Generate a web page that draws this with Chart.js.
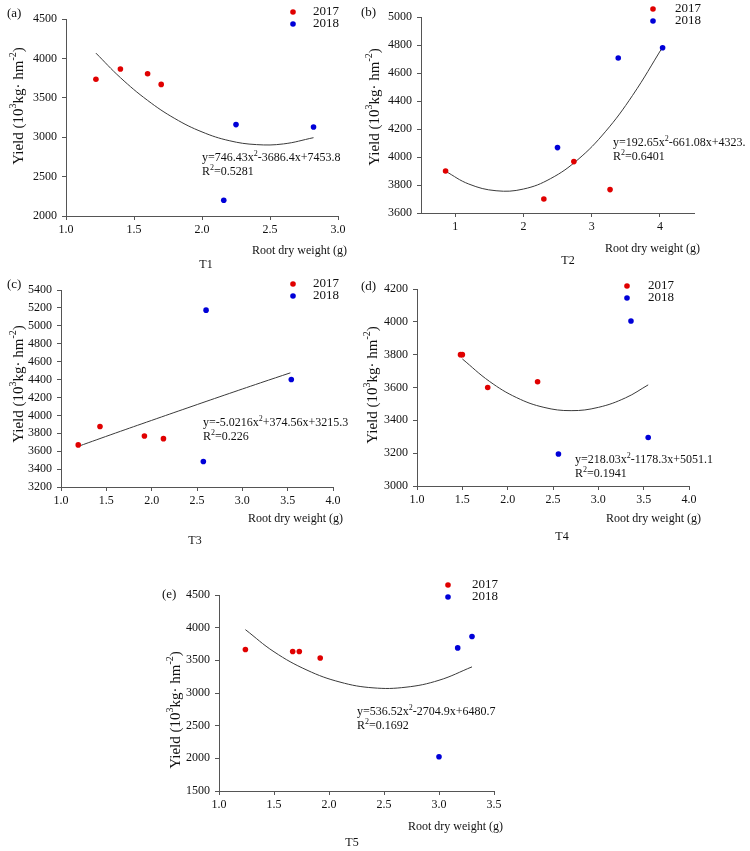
<!DOCTYPE html>
<html>
<head>
<meta charset="utf-8">
<script src="https://cdn.jsdelivr.net/npm/chart.js@4.4.1/dist/chart.umd.min.js"></script>
<style>
  html, body { margin: 0; padding: 0; background: #fff; }
  #fig { position: relative; width: 750px; height: 851px; overflow: hidden; }
  #fig canvas { position: absolute; }
</style>
</head>
<body>
<div id="fig">
  <canvas id="chartA"></canvas>
  <canvas id="chartB"></canvas>
  <canvas id="chartC"></canvas>
  <canvas id="chartD"></canvas>
  <canvas id="chartE"></canvas>
</div>
<script>
// ---- data ----
const yearLabels = ['2017', '2018'];
const xTitleText = 'Root dry weight (g)';
const yTitleText = 'Yield (10^{3}kg\u00b7 hm^{-2})';

// T1
const t1Root2017 = [1.22, 1.40, 1.60, 1.70];
const t1Yield2017 = [3735, 3865, 3805, 3670];
const t1Root2018 = [2.16, 2.25, 2.82];
const t1Yield2018 = [2200, 3160, 3130];
const t1FitRoot = [1.22, 1.4, 1.6, 1.8, 2.0, 2.2, 2.4, 2.6, 2.82];
const t1FitYield = [4067, 3756, 3467, 3237, 3067, 2956, 2906, 2915, 2994];
const t1XTicks = [1.0, 1.5, 2.0, 2.5, 3.0];
const t1YTicks = [2000, 2500, 3000, 3500, 4000, 4500];
const t1Equation = ['y=746.43x^{2}-3686.4x+7453.8', 'R^{2}=0.5281'];

// T2
const t2Root2017 = [0.86, 2.30, 2.74, 3.27];
const t2Yield2017 = [3900, 3700, 3967, 3767];
const t2Root2018 = [2.50, 3.39, 4.04];
const t2Yield2018 = [4067, 4707, 4780];
const t2FitRoot = [0.86, 1.2, 1.6, 2.0, 2.4, 2.8, 3.2, 3.6, 4.04];
const t2FitYield = [3898, 3807, 3759, 3771, 3846, 3982, 4180, 4440, 4785];
const t2XTicks = [1, 2, 3, 4];
const t2YTicks = [3600, 3800, 4000, 4200, 4400, 4600, 4800, 5000];
const t2Equation = ['y=192.65x^{2}-661.08x+4323.', 'R^{2}=0.6401'];

// T3
const t3Root2017 = [1.19, 1.43, 1.92, 2.13];
const t3Yield2017 = [3670, 3875, 3770, 3740];
const t3Root2018 = [2.60, 2.57, 3.54];
const t3Yield2018 = [5175, 3485, 4400];
const t3FitRoot = [1.19, 1.6, 2.0, 2.4, 2.8, 3.2, 3.53];
const t3FitYield = [3654, 3802, 3944, 4085, 4225, 4363, 4475];
const t3XTicks = [1.0, 1.5, 2.0, 2.5, 3.0, 3.5, 4.0];
const t3YTicks = [3200, 3400, 3600, 3800, 4000, 4200, 4400, 4600, 4800, 5000, 5200, 5400];
const t3Equation = ['y=-5.0216x^{2}+374.56x+3215.3', 'R^{2}=0.226'];

// T4
const t4Root2017 = [1.48, 1.50, 1.78, 2.33];
const t4Yield2017 = [3800, 3800, 3600, 3635];
const t4Root2018 = [2.56, 3.36, 3.55];
const t4Yield2018 = [3195, 4005, 3295];
const t4FitRoot = [1.5, 1.8, 2.1, 2.4, 2.7, 3.0, 3.3, 3.55];
const t4FitYield = [3774, 3637, 3538, 3479, 3459, 3479, 3537, 3616];
const t4XTicks = [1.0, 1.5, 2.0, 2.5, 3.0, 3.5, 4.0];
const t4YTicks = [3000, 3200, 3400, 3600, 3800, 4000, 4200];
const t4Equation = ['y=218.03x^{2}-1178.3x+5051.1', 'R^{2}=0.1941'];

// T5
const t5Root2017 = [1.24, 1.67, 1.73, 1.92];
const t5Yield2017 = [3665, 3635, 3635, 3535];
const t5Root2018 = [3.00, 3.17, 3.30];
const t5Yield2018 = [2025, 3690, 3865];
const t5FitRoot = [1.24, 1.5, 1.8, 2.1, 2.4, 2.7, 3.0, 3.30];
const t5FitYield = [3970, 3631, 3350, 3167, 3079, 3089, 3195, 3400];
const t5XTicks = [1.0, 1.5, 2.0, 2.5, 3.0, 3.5];
const t5YTicks = [1500, 2000, 2500, 3000, 3500, 4000, 4500];
const t5Equation = ['y=536.52x^{2}-2704.9x+6480.7', 'R^{2}=0.1692'];

// ---- styling ----
const SERIF = '"Liberation Serif", "Times New Roman", serif';
const RED = '#e00000';
const BLUE = '#0000d8';
const AXIS = '#555';
const INK = '#111';
const X_AXIS_H = 30;

// splits "a^{b}c" into normal / superscript runs
function parseRich(s) {
  const parts = [];
  const re = /\^\{([^}]*)\}/g;
  let last = 0, m;
  while ((m = re.exec(s))) {
    if (m.index > last) parts.push([s.slice(last, m.index), false]);
    parts.push([m[1], true]);
    last = re.lastIndex;
  }
  if (last < s.length) parts.push([s.slice(last), false]);
  return parts;
}

function drawRich(ctx, s, x, y, size, align) {
  const parts = parseRich(s);
  const big = size + 'px ' + SERIF;
  const small = Math.round(size * 0.65) + 'px ' + SERIF;
  let w = 0;
  parts.forEach(p => { ctx.font = p[1] ? small : big; w += ctx.measureText(p[0]).width; });
  let cx = align === 'center' ? x - w / 2 : align === 'right' ? x - w : x;
  ctx.textAlign = 'left';
  parts.forEach(p => {
    ctx.font = p[1] ? small : big;
    ctx.fillText(p[0], cx, p[1] ? y - size * 0.38 : y);
    cx += ctx.measureText(p[0]).width;
  });
}

// panel letter, axis titles, legend and fit equation
const panelText = {
  id: 'panelText',
  afterDraw(chart, args, o) {
    const ctx = chart.ctx;
    const ox = o.box[0], oy = o.box[1];
    ctx.save();
    ctx.fillStyle = INK;
    ctx.textBaseline = 'middle';

    drawRich(ctx, o.letter, o.letterAt[0] - ox, o.letterAt[1] - oy, 13, 'left');

    ctx.save();
    ctx.translate(o.yTitleAt[0] - ox, o.yTitleAt[1] - oy);
    ctx.rotate(-Math.PI / 2);
    drawRich(ctx, yTitleText, 0, 0, 15, 'center');
    ctx.restore();

    drawRich(ctx, xTitleText, o.xTitleAt[0] - ox, o.xTitleAt[1] - oy, 12, 'right');
    drawRich(ctx, o.sub, o.subAt[0] - ox, o.subAt[1] - oy, 12, 'center');

    [RED, BLUE].forEach((c, i) => {
      ctx.fillStyle = c;
      ctx.beginPath();
      ctx.arc(o.legendDotX - ox, o.legendY[i] - oy, 2.8, 0, Math.PI * 2);
      ctx.fill();
      ctx.fillStyle = INK;
      drawRich(ctx, yearLabels[i], o.legendTextX - ox, o.legendY[i] - oy, 13, 'left');
    });

    o.equation.forEach((line, i) => {
      drawRich(ctx, line, o.eqAt[0] - ox, o.eqAt[1] - oy + i * 14, 12, 'left');
    });
    ctx.restore();
  }
};

const toPoints = (xs, ys) => xs.map((x, i) => ({ x: x, y: ys[i] }));

function makePanel(p) {
  const [bx, by, bw, bh] = p.box;
  const [L, T, R, B] = p.area;
  const canvas = document.getElementById(p.id);
  canvas.width = bw;
  canvas.height = bh;
  canvas.style.left = bx + 'px';
  canvas.style.top = by + 'px';

  const tickFont = { family: SERIF, size: 12 };
  const gridCfg = { display: true, drawOnChartArea: false, drawTicks: true, tickLength: 4, color: AXIS };

  return new Chart(canvas, {
    type: 'scatter',
    data: {
      datasets: [
        { label: yearLabels[0], data: toPoints(p.x17, p.y17), backgroundColor: RED, borderColor: RED, pointRadius: 2.8, pointBorderWidth: 0 },
        { label: yearLabels[1], data: toPoints(p.x18, p.y18), backgroundColor: BLUE, borderColor: BLUE, pointRadius: 2.8, pointBorderWidth: 0 },
        { label: 'fit', data: toPoints(p.fitX, p.fitY), showLine: true, borderColor: '#3a3a3a', borderWidth: 1, pointRadius: 0, tension: 0.4, fill: false }
      ]
    },
    options: {
      responsive: false,
      animation: false,
      events: [],
      layout: { padding: { left: 0, top: T - by, right: bx + bw - R, bottom: by + bh - B - X_AXIS_H } },
      plugins: {
        legend: { display: false },
        tooltip: { enabled: false },
        panelText: p.text
      },
      scales: {
        x: {
          type: 'linear',
          min: p.xRange[0],
          max: p.xRange[1],
          afterBuildTicks: s => { s.ticks = p.xTicks.map(v => ({ value: v })); },
          afterFit: s => { s.height = X_AXIS_H; },
          grid: gridCfg,
          border: { display: true, color: AXIS, width: 1 },
          ticks: {
            font: tickFont, color: INK, padding: 3, maxRotation: 0, autoSkip: false,
            callback: v => p.xDecimals ? Number(v).toFixed(1) : String(v)
          }
        },
        y: {
          type: 'linear',
          min: p.yTicks[0],
          max: p.yTicks[p.yTicks.length - 1],
          afterBuildTicks: s => { s.ticks = p.yTicks.map(v => ({ value: v })); },
          afterFit: s => { s.width = L - bx; },
          grid: gridCfg,
          border: { display: true, color: AXIS, width: 1 },
          ticks: { font: tickFont, color: INK, padding: 5, autoSkip: false, callback: v => String(v) }
        }
      }
    },
    plugins: [panelText]
  });
}

const panels = [
  {
    id: 'chartA', box: [0, 0, 375, 272], area: [66, 19, 338, 216],
    x17: t1Root2017, y17: t1Yield2017, x18: t1Root2018, y18: t1Yield2018,
    fitX: t1FitRoot, fitY: t1FitYield, xTicks: t1XTicks, yTicks: t1YTicks,
    xRange: [1.0, 3.0], xDecimals: true,
    text: {
      box: [0, 0], letter: '(a)', letterAt: [7, 14], yTitleAt: [19, 106],
      xTitleAt: [347, 251], sub: 'T1', subAt: [206, 265],
      legendDotX: 293, legendTextX: 313, legendY: [12, 24],
      equation: t1Equation, eqAt: [202, 158]
    }
  },
  {
    id: 'chartB', box: [350, 0, 400, 272], area: [421, 17, 694, 213],
    x17: t2Root2017, y17: t2Yield2017, x18: t2Root2018, y18: t2Yield2018,
    fitX: t2FitRoot, fitY: t2FitYield, xTicks: t2XTicks, yTicks: t2YTicks,
    xRange: [0.5, 4.5], xDecimals: false,
    text: {
      box: [350, 0], letter: '(b)', letterAt: [361, 13], yTitleAt: [375, 107],
      xTitleAt: [700, 249], sub: 'T2', subAt: [568, 261],
      legendDotX: 653, legendTextX: 675, legendY: [9, 21],
      equation: t2Equation, eqAt: [613, 143]
    }
  },
  {
    id: 'chartC', box: [0, 272, 375, 288], area: [61, 290, 333, 487],
    x17: t3Root2017, y17: t3Yield2017, x18: t3Root2018, y18: t3Yield2018,
    fitX: t3FitRoot, fitY: t3FitYield, xTicks: t3XTicks, yTicks: t3YTicks,
    xRange: [1.0, 4.0], xDecimals: true,
    text: {
      box: [0, 272], letter: '(c)', letterAt: [7, 285], yTitleAt: [19, 384],
      xTitleAt: [343, 519], sub: 'T3', subAt: [195, 541],
      legendDotX: 293, legendTextX: 313, legendY: [284, 296],
      equation: t3Equation, eqAt: [203, 423]
    }
  },
  {
    id: 'chartD', box: [350, 272, 400, 288], area: [417, 289, 689, 486],
    x17: t4Root2017, y17: t4Yield2017, x18: t4Root2018, y18: t4Yield2018,
    fitX: t4FitRoot, fitY: t4FitYield, xTicks: t4XTicks, yTicks: t4YTicks,
    xRange: [1.0, 4.0], xDecimals: true,
    text: {
      box: [350, 272], letter: '(d)', letterAt: [361, 287], yTitleAt: [373, 385],
      xTitleAt: [701, 519], sub: 'T4', subAt: [562, 537],
      legendDotX: 627, legendTextX: 648, legendY: [286, 298],
      equation: t4Equation, eqAt: [575, 460]
    }
  },
  {
    id: 'chartE', box: [140, 560, 420, 291], area: [219, 595, 494, 791],
    x17: t5Root2017, y17: t5Yield2017, x18: t5Root2018, y18: t5Yield2018,
    fitX: t5FitRoot, fitY: t5FitYield, xTicks: t5XTicks, yTicks: t5YTicks,
    xRange: [1.0, 3.5], xDecimals: true,
    text: {
      box: [140, 560], letter: '(e)', letterAt: [162, 595], yTitleAt: [176, 710],
      xTitleAt: [503, 827], sub: 'T5', subAt: [352, 843],
      legendDotX: 448, legendTextX: 472, legendY: [585, 597],
      equation: t5Equation, eqAt: [357, 712]
    }
  }
];

panels.forEach(makePanel);
</script>
</body>
</html>
